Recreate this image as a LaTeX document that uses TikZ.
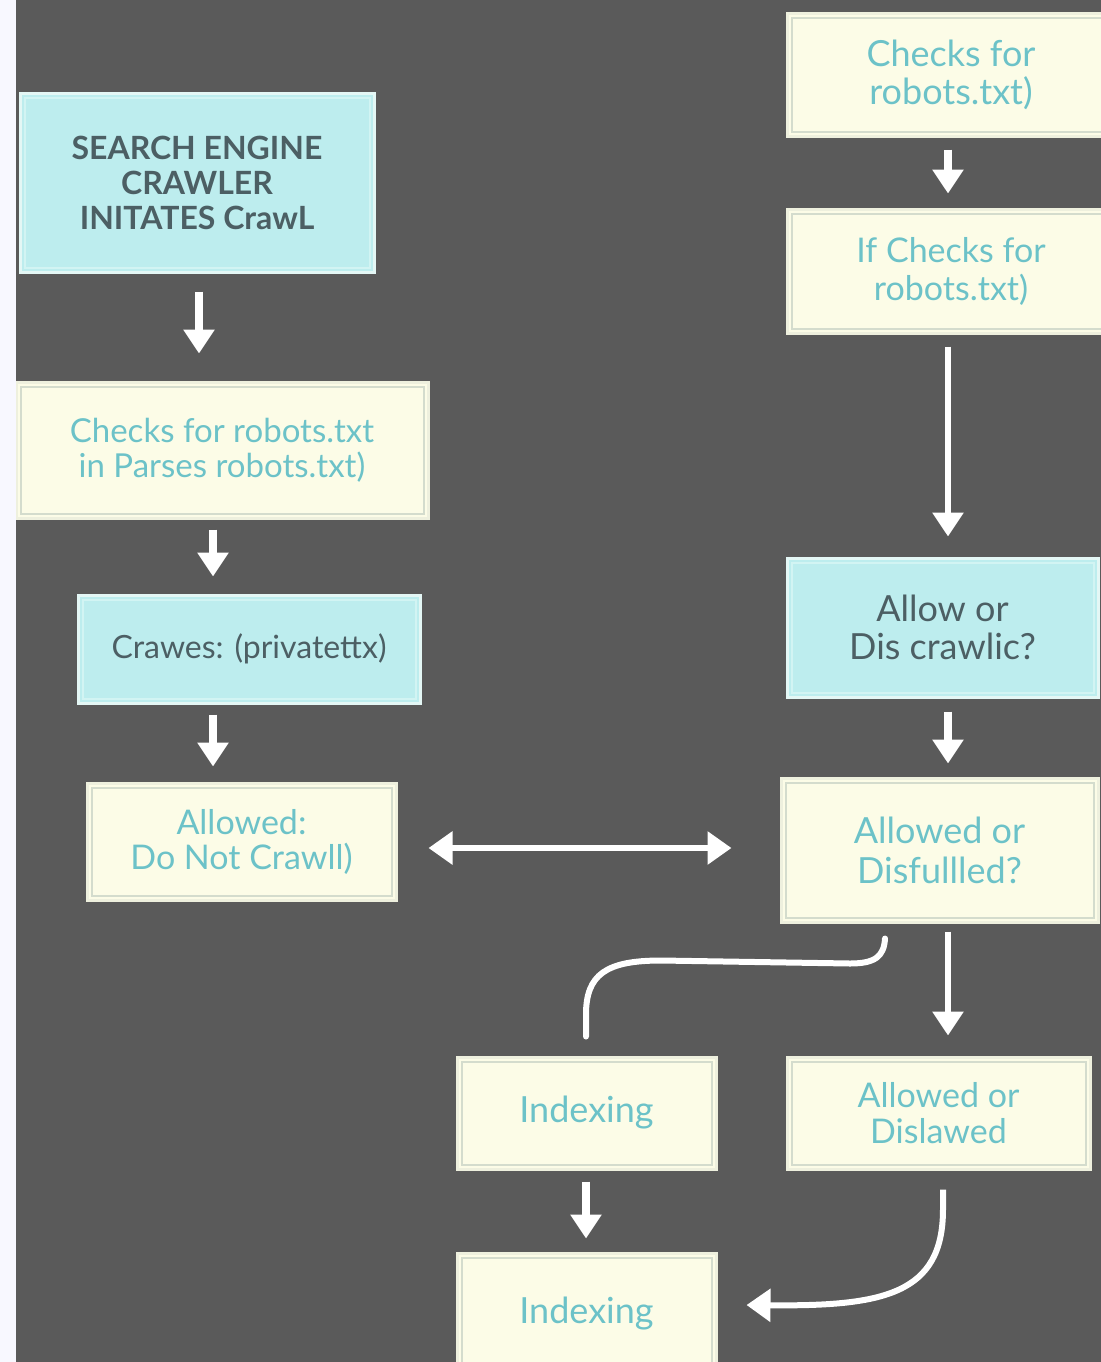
\documentclass[tikz,border=0pt]{standalone}
\usepackage{fontspec}
\setmainfont{Lato}
\usetikzlibrary{arrows.meta,calc}
\definecolor{bg}{HTML}{5A5A5A}
\definecolor{strip}{HTML}{F8F8FF}
\definecolor{cyanfill}{HTML}{BDEDEE}
\definecolor{cyanedge}{HTML}{E4F7F5}
\definecolor{cyaninner}{HTML}{D2F4F3}
\definecolor{creamfill}{HTML}{FCFCE7}
\definecolor{creamedge}{HTML}{EEF0DE}
\definecolor{creaminner}{HTML}{D4DCCD}
\definecolor{tealtext}{HTML}{6CC2C8}
\definecolor{darktext}{HTML}{4C5F64}
\tikzset{
  basebox/.style={rectangle, inner sep=0pt, align=center, line width=1.5pt},
  cyanbox/.style={basebox, fill=cyanfill, draw=cyanedge, text=darktext},
  creambox/.style={basebox, fill=creamfill, draw=creamedge, text=tealtext},
  arr/.style={draw=white, line width=4pt, -{Triangle[width=15pt,length=12pt]}},
  thinarr/.style={draw=white, line width=3pt, -{Triangle[width=15pt,length=12pt]}},
  dblarr/.style={draw=white, line width=3pt, {Triangle[width=16pt,length=12pt]}-{Triangle[width=16pt,length=12pt]}},
  curveline/.style={draw=white, line width=3pt, line cap=round},
  curvearr/.style={draw=white, line width=3pt, -{Triangle[width=16pt,length=12pt]}},
}
\begin{document}
\begin{tikzpicture}[x=0.5pt,y=-0.5pt]
\fill[bg] (0,0) rectangle (1101,1362);
\useasboundingbox (0,0) rectangle (1101,1362);

% left column
\node[cyanbox, minimum width=177pt, minimum height=89.5pt, font=\fontsize{16}{17.5}\selectfont\bfseries] (n1) at (197,182.5)
  {SEARCH ENGINE\\CRAWLER\\INITATES CrawL};
\node[creambox, minimum width=206pt, minimum height=68pt, font=\fontsize{16.5}{17.5}\selectfont] (n2) at (222,450)
  {Checks for robots.txt\\in Parses robots.txt)};
\node[cyanbox, minimum width=171pt, minimum height=54pt, font=\fontsize{16}{17.5}\selectfont] (n3) at (249,649)
  {Crawes: (privatettx)};
\node[creambox, minimum width=154.5pt, minimum height=58.5pt, font=\fontsize{17}{17.5}\selectfont] (n4) at (241.5,841.5)
  {Allowed:\\Do Not Crawll)};

% right column
\node[creambox, minimum width=164pt, minimum height=61.5pt, font=\fontsize{18}{19}\selectfont] (r1) at (951,74.5)
  {Checks for\\robots.txt)};
\node[creambox, minimum width=164pt, minimum height=62pt, font=\fontsize{17}{19}\selectfont] (r2) at (951,271)
  {If Checks for\\robots.txt)};
\node[cyanbox, minimum width=155.5pt, minimum height=69.5pt, font=\fontsize{18}{19}\selectfont] (r3) at (942.5,627.5)
  {Allow or\\Dis crawlic?};
\node[creambox, minimum width=158.5pt, minimum height=72pt, font=\fontsize{18}{20}\selectfont] (r4) at (939.5,850)
  {Allowed or\\Disfullled?};
\node[creambox, minimum width=129.5pt, minimum height=56pt, font=\fontsize{18}{19}\selectfont] (i1) at (586.5,1113)
  {\raisebox{-1.5pt}{Indexing}};
\node[creambox, minimum width=151.5pt, minimum height=56pt, font=\fontsize{17}{18}\selectfont] (r5) at (938.5,1113)
  {Allowed or\\Dislawed};
\node[creambox, minimum width=129.5pt, minimum height=61pt, font=\fontsize{18}{19}\selectfont] (i2) at (586.5,1314)
  {\raisebox{2pt}{Indexing}};

% inner frame lines
\foreach \n in {n1,n3,r3} {
  \draw[cyaninner, line width=1pt] ([shift={(6,-6)}]\n.south west) rectangle ([shift={(-6,6)}]\n.north east);
}
\foreach \n in {n2,n4,r1,r2,r4,i1,r5,i2} {
  \draw[creaminner, line width=1pt] ([shift={(6,-6)}]\n.south west) rectangle ([shift={(-6,6)}]\n.north east);
}

% left strip
\fill[strip] (0,0) rectangle (16,1362);

% straight arrows
\draw[arr, shorten <=9pt, shorten >=13.5pt] ([xshift=1pt]n1.south) -- ([xshift=1pt]n1.south |- n2.north);
\draw[arr, shorten <=5pt, shorten >=8.5pt] ([xshift=-4.5pt]n2.south) -- ([xshift=-4.5pt]n2.south |- n3.north);
\draw[arr, shorten <=5pt, shorten >=7.5pt] ([xshift=-18pt]n3.south) -- ([xshift=-18pt]n3.south |- n4.north);
\draw[arr, shorten <=6pt, shorten >=7pt] ([xshift=-1.5pt]r1.south) -- ([xshift=-1.5pt]r1.south |- r2.north);
\draw[thinarr, shorten <=6pt, shorten >=10pt] ([xshift=-1.5pt]r2.south) -- ([xshift=-1.5pt]r2.south |- r3.north);
\draw[arr, shorten <=6.5pt, shorten >=6.5pt] ([xshift=2.75pt]r3.south) -- ([xshift=2.75pt]r3.south |- r4.north);
\draw[thinarr, shorten <=4pt, shorten >=10pt] ([xshift=4.25pt]r4.south) -- ([xshift=4.25pt]r4.south |- r5.north);
\draw[arr, shorten <=5.5pt, shorten >=6.5pt] ([xshift=-0.25pt]i1.south) -- ([xshift=-0.25pt]i1.south |- i2.north);
\draw[dblarr, shorten <=15.5pt, shorten >=24pt] ([yshift=-3.25pt]n4.east) -- ([yshift=-3.25pt]n4.east -| r4.west);

% curved connectors
\coordinate (c1) at ($(r4.south)+(-54.5,15)$);
\coordinate (c2) at ($(i1.north)+(-0.5,-19)$);
\draw[curveline] (c1) .. controls ($(c1)+(-1,18)$) and ($(c1)+(-10,25)$) .. ($(c1)+(-35,25)$)
  -- ($(c2)+(75,-76)$) .. controls ($(c2)+(20,-76)$) and ($(c2)+(0,-62)$) .. ($(c2)+(0,-22)$) -- (c2);

\coordinate (d1) at ($(r5.south)+(4.5,19)$);
\coordinate (d2) at ($(i2.east)+(29,-9)$);
\draw[curvearr] (d1) -- ($(d1)+(0,20)$) .. controls ($(d1)+(0,105)$) and ($(d1)+(-60,117)$) .. (d2);
\end{tikzpicture}
\end{document}
